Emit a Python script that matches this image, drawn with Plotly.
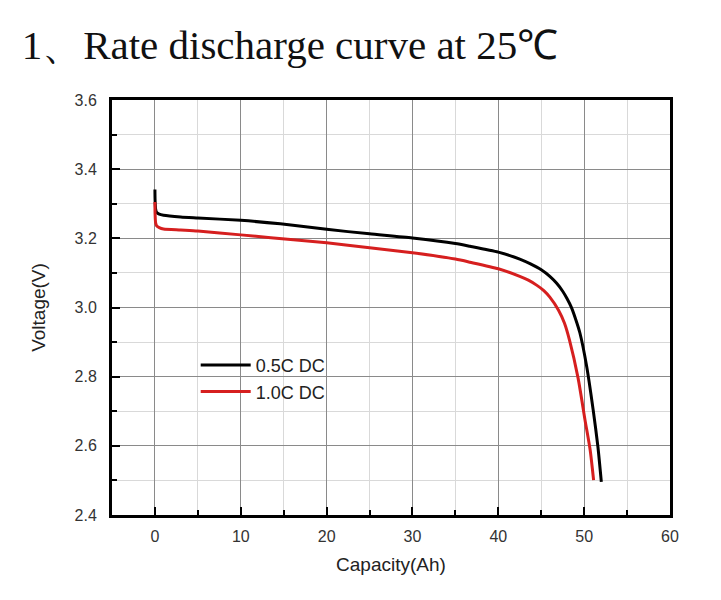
import plotly.graph_objects as go

# 0.5C discharge (black)
cap_05 = [0, 0.02, 0.08, 0.2, 0.5, 1, 3, 5, 10, 14.6, 20, 25, 30, 35, 36.7, 40,
          42.5, 43.75, 45, 46, 46.8, 47.5, 48, 48.5, 49, 49.5, 50.3, 51.05, 51.6, 52.0]
volt_05 = [3.341, 3.31, 3.285, 3.275, 3.270, 3.267, 3.262, 3.259, 3.252, 3.242,
           3.226, 3.213, 3.201, 3.185, 3.177, 3.160, 3.140, 3.126, 3.109, 3.090,
           3.070, 3.047, 3.026, 3.001, 2.967, 2.927, 2.829, 2.704, 2.598, 2.496]

# 1.0C discharge (red)
cap_10 = [0, 0.02, 0.08, 0.2, 0.5, 1, 3, 5, 10, 13.5, 20, 25, 30, 35, 36.7, 40,
          42.5, 43.5, 44.5, 45.3, 46, 47, 47.7, 48.3, 49.3, 50.1, 50.7, 51.1]
volt_10 = [3.305, 3.27, 3.245, 3.236, 3.231, 3.227, 3.224, 3.221, 3.210, 3.202,
           3.187, 3.173, 3.158, 3.140, 3.131, 3.112, 3.090, 3.079, 3.064, 3.049,
           3.030, 2.993, 2.955, 2.905, 2.795, 2.675, 2.588, 2.501]

series_names = ["0.5C DC", "1.0C DC"]
title_text = "1、Rate discharge curve at 25℃"
x_title = "Capacity(Ah)"
y_title = "Voltage(V)"

fig = go.Figure()
fig.add_trace(go.Scatter(x=cap_05, y=volt_05, mode="lines", name=series_names[0],
                         line=dict(color="#000000", width=3, shape="spline", smoothing=0.6)))
fig.add_trace(go.Scatter(x=cap_10, y=volt_10, mode="lines", name=series_names[1],
                         line=dict(color="#d61f1f", width=3, shape="spline", smoothing=0.6)))

sans = "Liberation Sans, Arial, sans-serif"
axis_font = dict(family=sans, size=16, color="#333333")

fig.update_layout(
    width=721, height=600,
    paper_bgcolor="white", plot_bgcolor="white",
    margin=dict(l=112, r=51, t=100, b=85),
    title=dict(text=title_text, x=0.03, xanchor="left", y=0.925, yanchor="middle",
               font=dict(family="Liberation Serif, Times New Roman, serif", size=41, color="#111111")),
    showlegend=True,
    legend=dict(x=0.15, y=0.405, xanchor="left", yanchor="top", bgcolor="rgba(0,0,0,0)",
                font=dict(family=sans, size=18, color="#222222"),
                itemwidth=50, tracegroupgap=0),
)

fig.update_xaxes(
    range=[-5, 60], tickmode="array", tickvals=[0, 10, 20, 30, 40, 50, 60],
    showline=True, linecolor="black", linewidth=3, mirror=True,
    ticks="inside", ticklen=8, tickwidth=2, tickcolor="black",
    showgrid=True, gridcolor="#8a8a8a", gridwidth=1, zeroline=False,
    minor=dict(dtick=5, tick0=0, showgrid=True, gridcolor="#d9d9d9", gridwidth=1,
               ticks="inside", ticklen=5, tickwidth=2, tickcolor="black"),
    tickfont=axis_font, ticklabelstandoff=5,
    title=dict(text=x_title, font=dict(family=sans, size=19, color="#222222"),
               standoff=14),
)
fig.update_yaxes(
    range=[2.4, 3.6], tickmode="array", tickvals=[2.4, 2.6, 2.8, 3.0, 3.2, 3.4, 3.6],
    ticktext=["2.4", "2.6", "2.8", "3.0", "3.2", "3.4", "3.6"],
    showline=True, linecolor="black", linewidth=3, mirror=True,
    ticks="inside", ticklen=8, tickwidth=2, tickcolor="black",
    showgrid=True, gridcolor="#8a8a8a", gridwidth=1, zeroline=False,
    minor=dict(dtick=0.1, tick0=2.4, showgrid=True, gridcolor="#d9d9d9", gridwidth=1,
               ticks="inside", ticklen=5, tickwidth=2, tickcolor="black"),
    tickfont=axis_font, ticklabelstandoff=9,
    title=dict(text=y_title, font=dict(family=sans, size=19, color="#222222"),
               standoff=24),
)

fig.write_html("out.html")
